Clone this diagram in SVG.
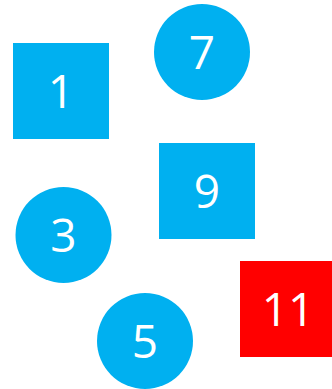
<svg xmlns="http://www.w3.org/2000/svg" width="332" height="389" viewBox="0 0 332 389">
<style>
.b{fill:#00B0F0}
.r{fill:#FF0000}
.t{fill:#FFFFFF;font-family:"Open Sans","Liberation Sans",sans-serif;font-size:46px;font-weight:400;text-anchor:middle}
</style>
<rect width="332" height="389" fill="#FFFFFF"/>
<g id="connectors"></g>
<g id="node1"><rect class="b" x="13" y="43" width="96" height="96"/><text class="t" x="61" y="107.5">1</text></g>
<g id="node7"><circle class="b" cx="202" cy="52" r="48"/><text class="t" x="202" y="68.5">7</text></g>
<g id="node9"><rect class="b" x="159" y="143" width="96" height="96"/><text class="t" x="207" y="207.5">9</text></g>
<g id="node3"><circle class="b" cx="63.5" cy="235" r="48"/><text class="t" x="63.5" y="251.5">3</text></g>
<g id="node11"><rect class="r" x="240" y="261" width="96" height="96"/><text class="t" x="288" y="325.5">11</text></g>
<g id="node5"><circle class="b" cx="145" cy="341" r="48"/><text class="t" x="145" y="357.5">5</text></g>
</svg>
